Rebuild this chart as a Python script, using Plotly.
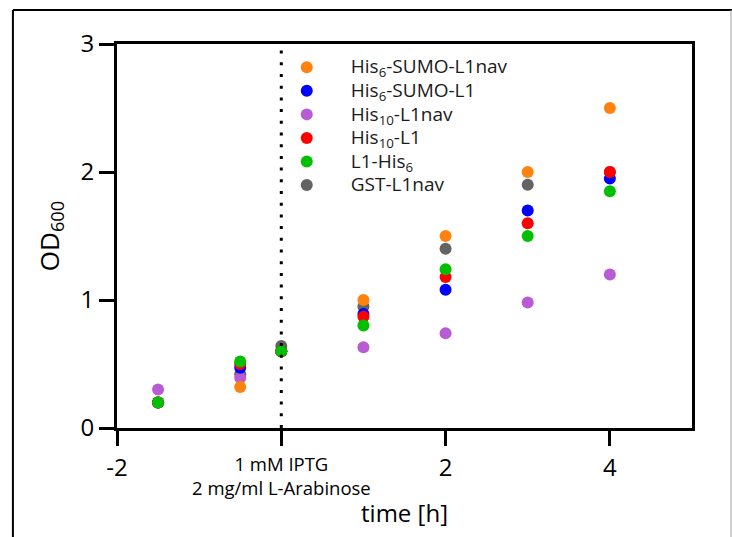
import plotly.graph_objects as go

# ---- data ----
time_h = [-1.5, -0.5, 0, 1, 2, 3, 4]
his6_sumo_l1nav = [0.20, 0.32, 0.60, 1.00, 1.50, 2.00, 2.50]
his6_sumo_l1 = [0.20, 0.47, 0.60, 0.89, 1.08, 1.70, 1.95]
his10_l1nav = [0.30, 0.39, 0.60, 0.63, 0.74, 0.98, 1.20]
his10_l1 = [0.20, 0.50, 0.60, 0.87, 1.18, 1.60, 2.00]
l1_his6 = [0.20, 0.52, 0.60, 0.80, 1.24, 1.50, 1.85]
gst_l1nav = [0.20, 0.42, 0.64, 0.95, 1.40, 1.90, 2.00]

x_tickvals = [-2, 0, 2, 4]
x_ticktext = ["-2", "", "2", "4"]
y_tickvals = [0, 1, 2, 3]
induction_label = "1 mM IPTG<br>2 mg/ml L-Arabinose"

FONT = "Open Sans"

# (name, values, colour, legend rank); listed in drawing order (bottom -> top)
series = [
    ("GST-L1nav", gst_l1nav, "#636363", 6),
    ("His<sub>10</sub>-L1nav", his10_l1nav, "#BA5BD6", 3),
    ("His<sub>6</sub>-SUMO-L1nav", his6_sumo_l1nav, "#FF820F", 1),
    ("His<sub>6</sub>-SUMO-L1", his6_sumo_l1, "#0000FF", 2),
    ("His<sub>10</sub>-L1", his10_l1, "#FF0000", 4),
    ("L1-His<sub>6</sub>", l1_his6, "#00C000", 5),
]

fig = go.Figure()
for name, vals, col, rank in series:
    fig.add_trace(go.Scatter(
        x=time_h, y=vals, mode="markers",
        name='<span style="font-size:19px">' + name + "</span>",
        legendrank=rank,
        marker=dict(size=12, color=col, line=dict(width=0)),
    ))

# dotted induction line at t = 0
fig.add_shape(type="line", xref="x", yref="y", x0=0, x1=0, y0=0, y1=3,
              line=dict(color="black", width=3, dash="3px,8.7px"))

# outer frame
fig.add_shape(type="line", xref="paper", yref="paper",
              x0=-0.181, x1=1.1, y0=1.0885, y1=1.0885,
              line=dict(color="black", width=2))
fig.add_shape(type="line", xref="paper", yref="paper",
              x0=-0.181, x1=-0.181, y0=1.0885, y1=-0.3,
              line=dict(color="black", width=2))
fig.add_shape(type="line", xref="paper", yref="paper",
              x0=1.0678, x1=1.0678, y0=1.0885, y1=-0.3,
              line=dict(color="#A0A0A0", width=1))

fig.add_annotation(x=0, y=0, xref="x", yref="y", yshift=-47, text=induction_label,
                   showarrow=False, font=dict(family=FONT, size=18.5, color="black"),
                   yanchor="middle", align="center")

fig.update_layout(
    width=732, height=537,
    margin=dict(l=117, r=40, t=44, b=109),
    paper_bgcolor="white", plot_bgcolor="white",
    font=dict(family=FONT, color="black"),
    legend=dict(x=0.2535, y=0.983, xanchor="left", yanchor="top",
                font=dict(family=FONT, size=15.8, color="#1a1a1a"),
                bgcolor="rgba(0,0,0,0)", traceorder="normal",
                itemwidth=78),
    showlegend=True,
)
fig.update_xaxes(range=[-2, 5], tickvals=x_tickvals, ticktext=x_ticktext,
                 automargin=False,
                 showgrid=False, zeroline=False, showline=True, linecolor="black",
                 linewidth=3, mirror=True, ticks="outside", ticklen=15, tickwidth=3,
                 tickcolor="black", tickfont=dict(family=FONT, size=24),
                 ticklabelstandoff=1,
                 title=dict(text="time [h]", font=dict(family=FONT, size=24), standoff=24))
fig.update_yaxes(range=[0, 3], tickvals=y_tickvals,
                 automargin=False,
                 showgrid=False, zeroline=False, showline=True, linecolor="black",
                 linewidth=3, mirror=True, ticks="outside", ticklen=15, tickwidth=3,
                 tickcolor="black", tickfont=dict(family=FONT, size=24),
                 title=dict(text="OD<sub>600</sub>", font=dict(family=FONT, size=26), standoff=14))

fig.write_html("out.html")
